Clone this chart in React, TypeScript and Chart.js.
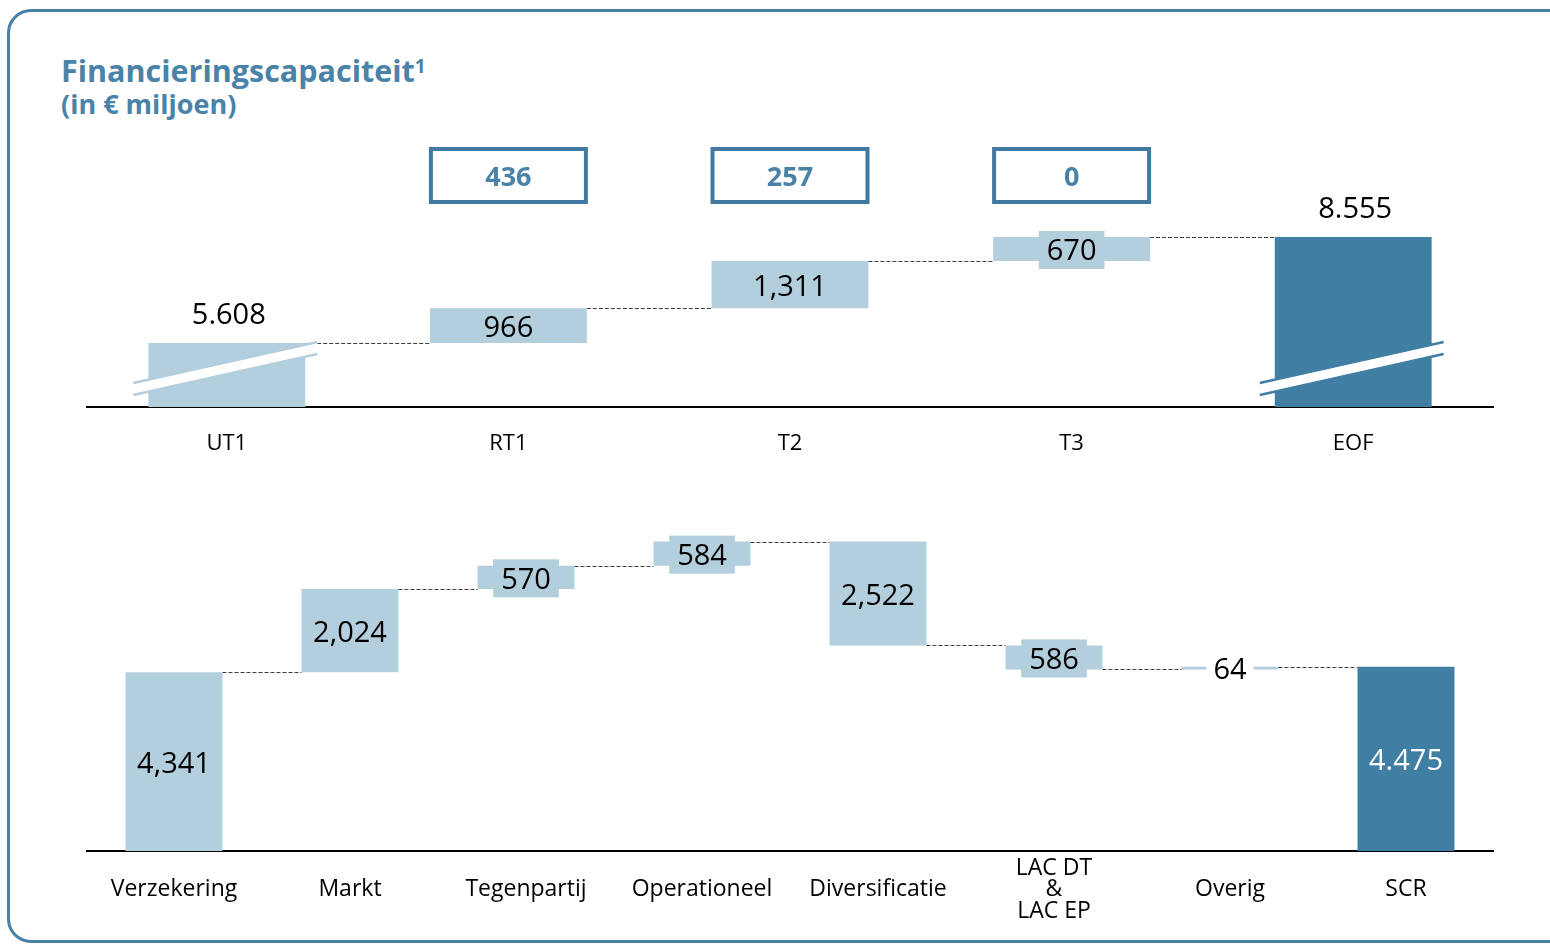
import React, { useEffect, useRef } from 'react';
import { Chart, registerables } from 'chart.js';

Chart.register(...registerables);

// ---------- data ----------
const topCategories = ['UT1', 'RT1', 'T2', 'T3', 'EOF'];
const topValues = [5608, 966, 1311, 670, 8555];
const topKinds = ['start', 'delta', 'delta', 'delta', 'total'];
const topLabels = ['5.608', '966', '1,311', '670', '8.555'];
const topBoxValues = [null, '436', '257', '0', null];
const topBroken = [true, false, false, false, true];

const bottomCategories: (string | string[])[] = [
  'Verzekering',
  'Markt',
  'Tegenpartij',
  'Operationeel',
  'Diversificatie',
  ['LAC DT', '&', 'LAC EP'],
  'Overig',
  'SCR',
];
const bottomValues = [4341, 2024, 570, 584, -2522, -586, 64, 4475];
const bottomKinds = ['start', 'delta', 'delta', 'delta', 'delta', 'delta', 'delta', 'total'];
const bottomLabels = ['4,341', '2,024', '570', '584', '2,522', '586', '64', '4.475'];
const bottomBroken = [false, false, false, false, false, false, false, false];

// ---------- style ----------
const FONT = "'Open Sans', sans-serif";
const LIGHT = '#b3cedc';
const DARK = '#417ea3';
const BLUE_TEXT = '#4a82a8';

function buildRanges(values: number[], kinds: string[]) {
  let run = 0;
  const ranges: number[][] = [];
  const levels: number[] = [];
  values.forEach((v, i) => {
    if (kinds[i] === 'delta') {
      ranges.push([run, run + v]);
      run += v;
    } else {
      ranges.push([0, v]);
      run = v;
    }
    levels.push(run);
  });
  return { ranges, levels };
}

function makePlugin(cfg: {
  levels: number[];
  kinds: string[];
  labels: string[];
  broken: boolean[];
  boxes?: (string | null)[];
}) {
  return {
    id: 'waterfallDeco',
    afterDatasetsDraw(chart: any) {
      const ctx = chart.ctx as CanvasRenderingContext2D;
      const meta = chart.getDatasetMeta(0);
      const yScale = chart.scales.y;
      const area = chart.chartArea;
      const bars = meta.data as any[];
      ctx.save();

      // dashed connectors
      ctx.strokeStyle = '#3d3d3d';
      ctx.lineWidth = 1;
      ctx.setLineDash([4, 2]);
      for (let i = 0; i < bars.length - 1; i++) {
        const a = bars[i];
        const b = bars[i + 1];
        const py = Math.round(yScale.getPixelForValue(cfg.levels[i])) + 0.5;
        ctx.beginPath();
        ctx.moveTo(a.x + a.width / 2, py);
        ctx.lineTo(b.x - b.width / 2, py);
        ctx.stroke();
      }
      ctx.setLineDash([]);

      // axis-break marks
      bars.forEach((bar, i) => {
        if (!cfg.broken[i]) return;
        const color = cfg.kinds[i] === 'total' ? DARK : LIGHT;
        const L = bar.x - bar.width / 2 - 15;
        const R = bar.x + bar.width / 2 + 12;
        const B = area.bottom;
        const u1 = B - 24, u2 = B - 65, l1 = B - 12, l2 = B - 53;
        ctx.fillStyle = '#ffffff';
        ctx.beginPath();
        ctx.moveTo(L, u1);
        ctx.lineTo(R, u2);
        ctx.lineTo(R, l2);
        ctx.lineTo(L, l1);
        ctx.closePath();
        ctx.fill();
        ctx.strokeStyle = color;
        ctx.lineWidth = 2.5;
        ctx.beginPath();
        ctx.moveTo(L, u1);
        ctx.lineTo(R, u2);
        ctx.moveTo(L, l1);
        ctx.lineTo(R, l2);
        ctx.stroke();
      });

      // value labels
      ctx.font = `29px ${FONT}`;
      ctx.textAlign = 'center';
      ctx.textBaseline = 'middle';
      bars.forEach((bar, i) => {
        const top = Math.min(bar.y, bar.base);
        const bottom = Math.min(Math.max(bar.y, bar.base), area.bottom);
        const text = cfg.labels[i];
        const isTotal = cfg.kinds[i] === 'total';
        if (cfg.broken[i]) {
          ctx.fillStyle = '#000';
          ctx.fillText(text, bar.x + 2, top - 27);
          return;
        }
        const cy = (top + bottom) / 2 + 3;
        const h = bottom - top;
        const tw = ctx.measureText(text).width;
        if (h < 8) {
          ctx.fillStyle = '#ffffff';
          ctx.fillRect(bar.x - tw / 2 - 7, cy - 20, tw + 14, 38);
        } else if (h < 34) {
          ctx.fillStyle = isTotal ? DARK : LIGHT;
          ctx.fillRect(bar.x - tw / 2 - 8, cy - 21, tw + 16, 38);
        }
        ctx.fillStyle = isTotal ? '#ffffff' : '#000';
        ctx.fillText(text, bar.x, cy);
      });

      // boxed annotations
      if (cfg.boxes) {
        bars.forEach((bar, i) => {
          const v = cfg.boxes![i];
          if (v == null) return;
          const w = 155;
          const x0 = bar.x - w / 2;
          const y0 = area.top + 9;
          ctx.strokeStyle = '#4179a0';
          ctx.lineWidth = 4;
          ctx.beginPath();
          ctx.rect(x0, y0, w, 53);
          ctx.stroke();
          ctx.fillStyle = BLUE_TEXT;
          ctx.font = `bold 27px ${FONT}`;
          ctx.fillText(v, bar.x, y0 + 29);
        });
      }
      ctx.restore();
    },
  };
}

function WaterfallChart(props: {
  left: number;
  top: number;
  width: number;
  height: number;
  axisHeight: number;
  categories: (string | string[])[];
  values: number[];
  kinds: string[];
  labels: string[];
  broken: boolean[];
  boxes?: (string | null)[];
  yMin: number;
  yMax: number;
  barPct: number;
  tickPadding: number;
  tickSize: number;
  tickLineHeight: number;
}) {
  const ref = useRef<HTMLCanvasElement>(null);
  useEffect(() => {
    if (!ref.current) return;
    const { ranges, levels } = buildRanges(props.values, props.kinds);
    const colors = props.kinds.map((k) => (k === 'total' ? DARK : LIGHT));
    const chart = new Chart(ref.current, {
      type: 'bar',
      data: {
        labels: props.categories as any,
        datasets: [
          {
            data: ranges as any,
            backgroundColor: colors,
            borderWidth: 0,
            barPercentage: props.barPct,
            categoryPercentage: 1,
            clip: 0 as any,
          },
        ],
      },
      options: {
        animation: false,
        responsive: false,
        maintainAspectRatio: false,
        layout: { padding: 0 },
        plugins: {
          legend: { display: false },
          tooltip: { enabled: false },
          title: { display: false },
        },
        scales: {
          x: {
            grid: { display: false, drawTicks: false },
            border: { display: true, color: '#000', width: 2 },
            ticks: {
              color: '#000',
              font: { family: FONT, size: props.tickSize, lineHeight: props.tickLineHeight },
              padding: props.tickPadding,
              maxRotation: 0,
              autoSkip: false,
              crossAlign: 'center',
            },
            afterFit: (s: any) => {
              s.height = props.axisHeight;
            },
          },
          y: { display: false, min: props.yMin, max: props.yMax },
        },
      },
      plugins: [
        makePlugin({
          levels,
          kinds: props.kinds,
          labels: props.labels,
          broken: props.broken,
          boxes: props.boxes,
        }),
      ],
    } as any);
    return () => chart.destroy();
  }, []);
  return (
    <canvas
      ref={ref}
      width={props.width}
      height={props.height}
      style={{
        position: 'absolute',
        left: props.left,
        top: props.top,
        width: props.width,
        height: props.height,
      }}
    />
  );
}

export default function App() {
  return (
    <div
      style={{
        position: 'absolute',
        left: 0,
        top: 0,
        width: 1550,
        height: 945,
        overflow: 'hidden',
        background: '#fff',
        fontFamily: FONT,
      }}
    >
      <div
        style={{
          position: 'absolute',
          left: 7,
          top: 9,
          width: 1570,
          height: 934,
          boxSizing: 'border-box',
          border: '3px solid #4a80a6',
          borderRadius: 24,
        }}
      />
      <div
        style={{
          position: 'absolute',
          left: 61,
          top: 55,
          fontSize: 30.5,
          lineHeight: '30.5px',
          fontWeight: 700,
          color: BLUE_TEXT,
          whiteSpace: 'nowrap',
        }}
      >
        Financieringscapaciteit
        <sup style={{ fontSize: 19, verticalAlign: 0, position: 'relative', top: -9 }}>1</sup>
      </div>
      <div
        style={{
          position: 'absolute',
          left: 61,
          top: 90,
          fontSize: 27,
          lineHeight: '27px',
          fontWeight: 700,
          color: BLUE_TEXT,
          whiteSpace: 'nowrap',
        }}
      >
        (in € miljoen)
      </div>
      <WaterfallChart
        left={86}
        top={140}
        width={1408}
        height={347}
        axisHeight={80}
        categories={topCategories}
        values={topValues}
        kinds={topKinds}
        labels={topLabels}
        broken={topBroken}
        boxes={topBoxValues}
        yMin={3830}
        yMax={11250}
        barPct={0.557}
        tickPadding={37}
        tickSize={22}
        tickLineHeight={1.05}
      />
      <WaterfallChart
        left={86}
        top={500}
        width={1408}
        height={441}
        axisHeight={90}
        categories={bottomCategories}
        values={bottomValues}
        kinds={bottomKinds}
        labels={bottomLabels}
        broken={bottomBroken}
        yMin={0}
        yMax={8530}
        barPct={0.551}
        tickPadding={17}
        tickSize={23}
        tickLineHeight={0.935}
      />
    </div>
  );
}
